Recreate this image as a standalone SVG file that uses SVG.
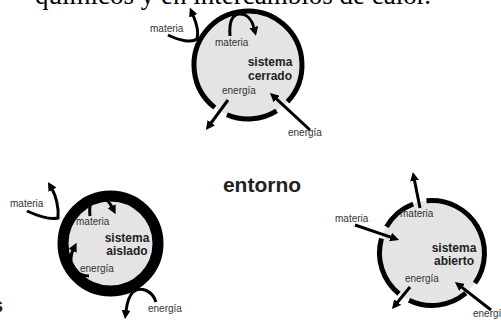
<svg xmlns="http://www.w3.org/2000/svg" width="501" height="320" viewBox="0 0 501 320">
<style>
.lbl{font-family:"Liberation Sans",Arial,sans-serif;font-size:10px;fill:#333}
.ttl{font-family:"Liberation Sans",Arial,sans-serif;font-size:12px;font-weight:bold;fill:#222;text-anchor:middle}
.ring{fill:none;stroke:#000;stroke-width:5}
.fillc{fill:#e4e4e4;stroke:none}
.arr{fill:none;stroke:#000;stroke-width:3;marker-end:url(#ah)}
</style>
<defs>
<marker id="ah" viewBox="0 0 10 10" refX="1" refY="5" markerWidth="9" markerHeight="9" markerUnits="userSpaceOnUse" orient="auto">
<path d="M0,0 L10,5 L0,10 z" fill="#000"/>
</marker>
</defs>
<rect width="501" height="320" fill="#fff"/>
<text x="431" y="4" text-anchor="end" font-family="'Liberation Serif','Times New Roman',serif" font-size="27" fill="#000">químicos y en intercambios de calor.</text>
<text x="3" y="312" text-anchor="end" font-family="'Liberation Sans',Arial,sans-serif" font-size="20" font-weight="bold" fill="#222">s</text>

<g id="cerrado">
<circle class="fillc" cx="248" cy="65" r="54"/>
<path class="ring" d="M276.6,110.8 A54,54 0 0 1 226.9,114.7"/>
<path class="ring" d="M214.8,107.6 A54,54 0 1 1 287.5,101.8"/>
<text class="lbl" x="215" y="46">materia</text>
<text class="ttl" x="270" y="66">sistema</text>
<text class="ttl" x="270" y="80">cerrado</text>
<text class="lbl" x="222" y="94">energía</text>
</g>

<g id="aislado">
<circle cx="110.5" cy="243.5" r="47.5" fill="#e4e4e4" stroke="#000" stroke-width="11"/>
<text class="lbl" x="76" y="225">materia</text>
<text class="ttl" x="127" y="242">sistema</text>
<text class="ttl" x="127" y="255">aislado</text>
<text class="lbl" x="80" y="272">energía</text>
</g>

<g id="abierto">
<circle class="fillc" cx="432" cy="253" r="52.5"/>
<path class="ring" d="M465.8,293.2 A52.5,52.5 0 0 1 409.0,300.2"/>
<path class="ring" d="M399.0,293.8 A52.5,52.5 0 0 1 381.5,238.5"/>
<path class="ring" d="M386.5,226.8 A52.5,52.5 0 0 1 413.2,204.0"/>
<path class="ring" d="M426.5,200.8 A52.5,52.5 0 0 1 475.0,283.1"/>
<text class="lbl" x="400" y="217">materia</text>
<text class="ttl" x="454" y="252">sistema</text>
<text class="ttl" x="454" y="265">abierto</text>
<text class="lbl" x="405" y="282">energía</text>
</g>

<g id="entorno">
<text x="262" y="192" text-anchor="middle" font-family="'Liberation Sans',Arial,sans-serif" font-size="21" font-weight="bold" fill="#222">entorno</text>
</g>

<g id="connectors">
<path class="arr" d="M168,35 C180,41 192,43 197,39 C199,32 196,22 193,15"/>
<path class="arr" d="M230,36 C229,22 232,14 240,14 C247,14 252,20 254,28"/>
<path class="arr" d="M228,100 L210.7,123.5"/>
<path class="arr" d="M310,130 L275.9,98.4"/>
<path class="arr" d="M27,211 C38,216 50,220 58,218 C59,208 56,196 52,189"/>
<path class="arr" d="M90,216 C89,206 91,198 97,197 C104,196 109,201 112,207"/>
<path class="arr" d="M89,276 C78,276 70,268 71,258 C71,255 72,252 73,250"/>
<path class="arr" d="M156,302 C152,290 140,286 133,292 C129,296 127,303 126,311"/>
<path class="arr" d="M420,208 L414.4,179.9"/>
<path class="arr" d="M355,225 L391.4,237.4"/>
<path class="arr" d="M410,287 L397.1,302.8"/>
<path class="arr" d="M491,310 L461.3,286.9"/>
<text class="lbl" x="150" y="32">materia</text>
<text class="lbl" x="288" y="136">energía</text>
<text class="lbl" x="10" y="207">materia</text>
<text class="lbl" x="148" y="312">energía</text>
<text class="lbl" x="335" y="222">materia</text>
<text class="lbl" x="473" y="317">energía</text>
</g>
</svg>
